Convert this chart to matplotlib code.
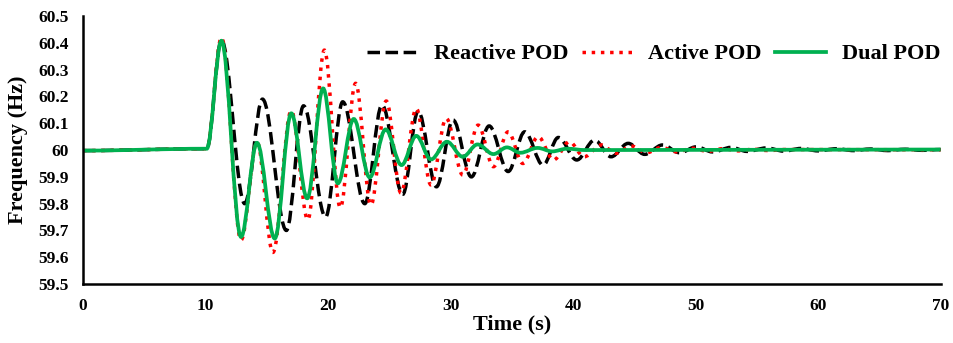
import matplotlib
matplotlib.use('Agg')
import matplotlib.pyplot as plt
from matplotlib.path import Path
from matplotlib.patches import PathPatch
from matplotlib.lines import Line2D

# peaks / troughs (time in s, frequency in Hz)
reactive_t = [0, 10.1, 11.3, 13.2, 14.65, 16.6, 18.0, 19.8, 21.2, 23.0, 24.4, 26.1, 27.35,
              28.85, 30.2, 31.7, 33.15, 34.7, 36.05, 37.55, 38.8, 40.3, 41.75, 43.1, 44.5,
              45.85, 47.3, 48.7, 50.05, 51.4, 52.9, 54.2, 55.8, 57.2, 58.6, 60.0, 61.5,
              62.9, 64.3, 65.7, 67.1, 68.5, 70]
reactive_f = [59.998, 60.005, 60.41, 59.80, 60.19, 59.70, 60.165, 59.75, 60.18, 59.80, 60.168,
              59.835, 60.145, 59.863, 60.112, 59.90, 60.09, 59.92, 60.068, 59.944, 60.047,
              59.963, 60.037, 59.975, 60.025, 59.984, 60.019, 59.99, 60.012, 59.993, 60.01,
              59.995, 60.008, 59.996, 60.006, 59.997, 60.005, 59.998, 60.004, 59.998,
              60.003, 59.999, 60.002]

active_t = [0, 10.1, 11.3, 12.9, 14.2, 15.5, 17.0, 18.35, 19.7, 21.0, 22.25, 23.5, 24.75,
            25.95, 27.2, 28.4, 29.65, 31.0, 32.25, 33.5, 34.7, 35.9, 37.15, 38.4, 39.7,
            40.9, 42.3, 43.5, 44.75, 46.0, 47.2, 48.5, 49.7, 51.0, 52.2, 53.5, 54.7, 56.0,
            57.2, 70]
active_f = [59.998, 60.005, 60.42, 59.664, 60.03, 59.618, 60.147, 59.74, 60.373, 59.785,
            60.249, 59.795, 60.183, 59.84, 60.155, 59.87, 60.118, 59.907, 60.093, 59.938,
            60.068, 59.95, 60.05, 59.963, 60.031, 59.975, 60.019, 59.988, 60.015, 59.99,
            60.01, 59.993, 60.007, 59.995, 60.005, 59.997, 60.003, 59.998, 60.002, 60.001]

dual_t = [0, 10.1, 11.3, 12.9, 14.2, 15.65, 17.0, 18.3, 19.6, 20.8, 22.1, 23.4, 24.7, 26.0,
          27.2, 28.4, 29.7, 31.0, 32.2, 33.5, 34.6, 35.7, 37.1, 38.3, 39.5, 41.0, 70]
dual_f = [59.998, 60.005, 60.408, 59.676, 60.027, 59.67, 60.137, 59.82, 60.23, 59.876,
          60.116, 59.898, 60.077, 59.944, 60.053, 59.965, 60.031, 59.975, 60.021, 59.985,
          60.01, 59.99, 60.008, 59.995, 60.005, 60.0, 60.002]

labels = ['Reactive POD', 'Active POD', 'Dual POD']
xticks = [0, 10, 20, 30, 40, 50, 60, 70]
yticks = [59.5, 59.6, 59.7, 59.8, 59.9, 60.0, 60.1, 60.2, 60.3, 60.4, 60.5]
yticklabels = ['59.5', '59.6', '59.7', '59.8', '59.9', '60', '60.1', '60.2', '60.3', '60.4', '60.5']

font = 'Liberation Serif'
plt.rcParams['font.family'] = font
plt.rcParams['font.weight'] = 'bold'


def smooth_path(t, f, k=0.36):
    # cubic bezier between extrema, flat tangent at every peak/trough
    verts = [(t[0], f[0])]
    codes = [Path.MOVETO]
    for i in range(1, len(t)):
        dt = t[i] - t[i - 1]
        verts += [(t[i - 1] + k * dt, f[i - 1]), (t[i] - k * dt, f[i]), (t[i], f[i])]
        codes += [Path.CURVE4] * 3
    return Path(verts, codes)


fig = plt.figure(figsize=(9.54, 3.43), dpi=100)
ax = fig.add_axes([0.087, 0.172, 0.899, 0.781])

styles = [dict(color='black', linestyle=(0, (3.6, 1.6)), lw=2.5),
          dict(color='#FF0000', linestyle=':', lw=2.5),
          dict(color='#00B050', linestyle='-', lw=2.7)]
series = [(reactive_t, reactive_f), (active_t, active_f), (dual_t, dual_f)]

handles = []
for (t, f), st, lab in zip(series, styles, labels):
    patch = PathPatch(smooth_path(t, f), facecolor='none', edgecolor=st['color'],
                      linestyle=st['linestyle'], lw=st['lw'], capstyle='butt')
    ax.add_patch(patch)
    handles.append(Line2D([], [], color=st['color'], linestyle=st['linestyle'], lw=st['lw']))

ax.set_xlim(0, 70)
ax.set_ylim(59.5, 60.5)
ax.set_xticks(xticks)
ax.set_yticks(yticks)
ax.set_yticklabels(yticklabels)
ax.tick_params(length=0, labelsize=12.5)
ax.tick_params(axis='y', pad=10)
ax.tick_params(axis='x', pad=10)

for s in ['top', 'right']:
    ax.spines[s].set_visible(False)
for s in ['left', 'bottom']:
    ax.spines[s].set_linewidth(1.8)

ax.set_xlabel('Time (s)', fontsize=16, fontweight='bold')
ax.set_ylabel('Frequency (Hz)', fontsize=16, fontweight='bold')
ax.xaxis.set_label_coords(0.5, -0.115)
ax.yaxis.set_label_coords(-0.064, 0.5)

ax.legend(handles, labels, loc='upper right', bbox_to_anchor=(1.01, 0.93), ncol=3,
          frameon=False, fontsize=16, handlelength=2.3, handletextpad=0.7,
          columnspacing=0.6, borderaxespad=0, borderpad=0.4)

fig.savefig('out.png', dpi=100)
